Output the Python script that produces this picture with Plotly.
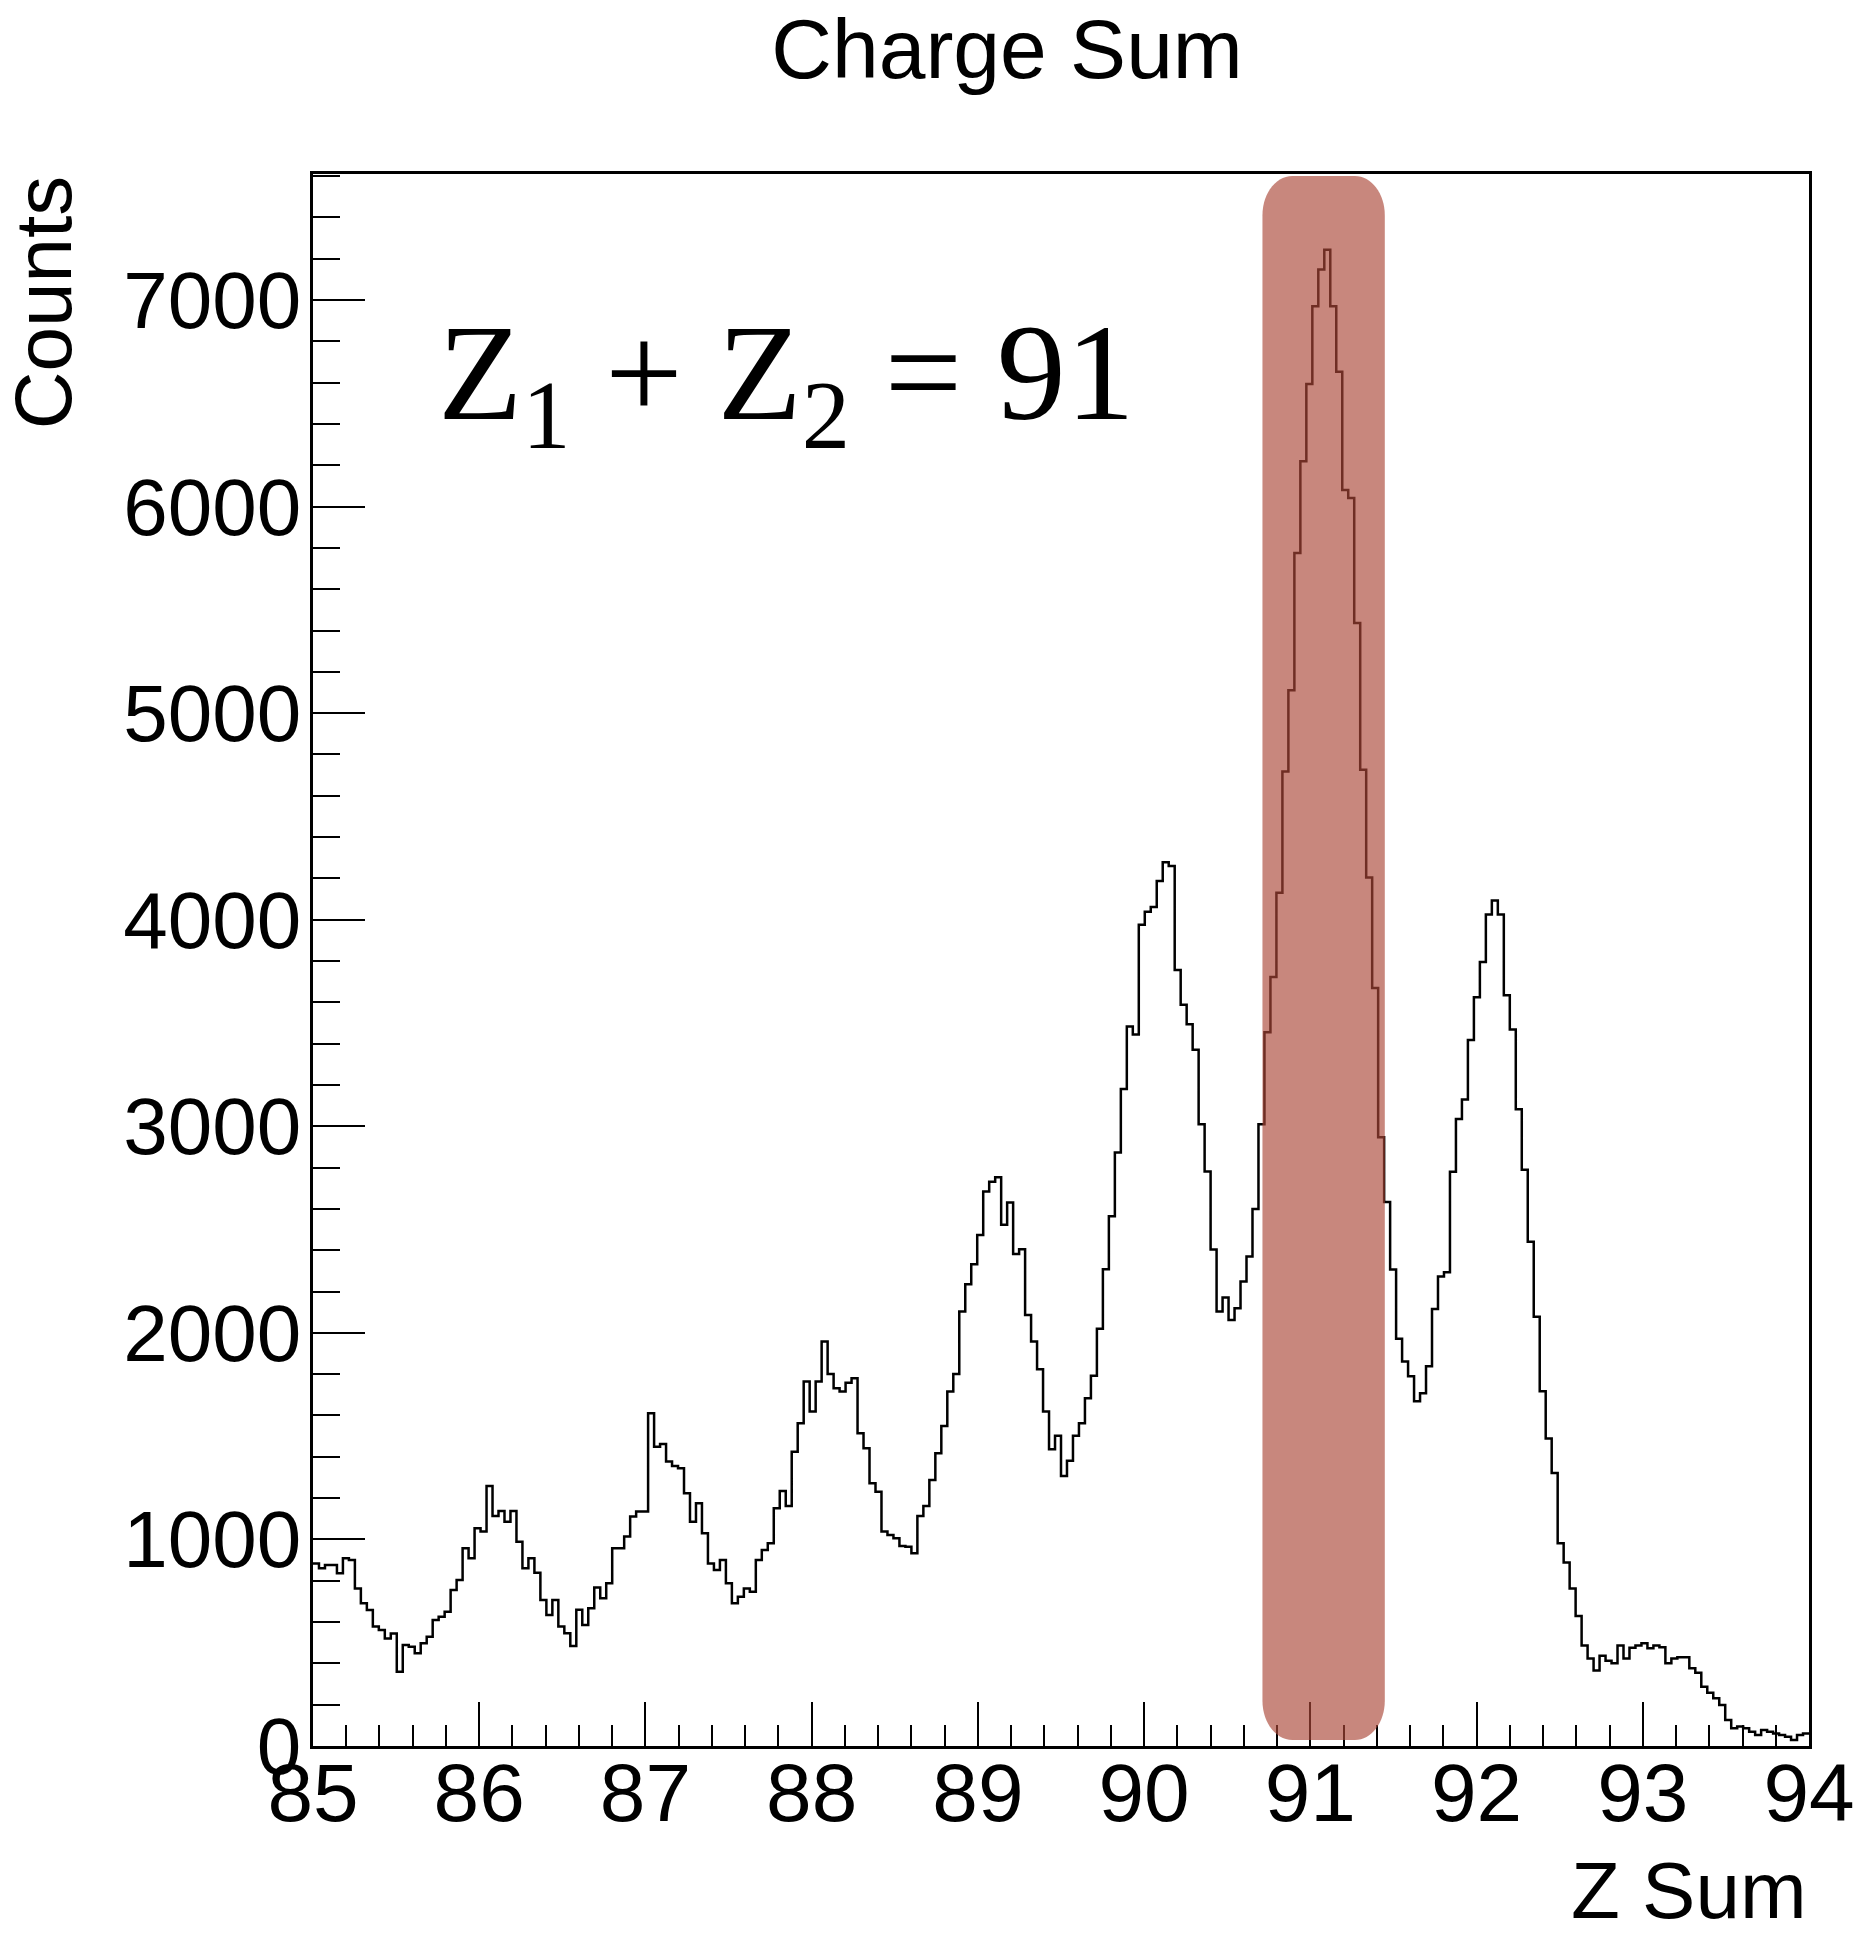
import plotly.graph_objects as go

# ---------------- data ----------------
bin_low = 85.0
bin_width = 0.036          # 250 bins from 85 to 94
counts = [
    884, 860, 876, 876, 836, 909, 900, 763, 691, 658,
    578, 562, 521, 545, 360, 489, 481, 449, 497, 529,
    610, 626, 650, 755, 804, 957, 909, 1054, 1038, 1259,
    1114, 1138, 1086, 1138, 989, 860, 909, 839, 707, 634,
    707, 578, 546, 484, 659, 586, 667, 767, 715, 788,
    957, 957, 1014, 1111, 1135, 1135, 1611, 1449, 1462, 1377,
    1356, 1345, 1223, 1086, 1175, 1030, 884, 852, 901, 788,
    691, 723, 763, 747, 901, 949, 981, 1151, 1235, 1162,
    1425, 1562, 1764, 1619, 1764, 1958, 1801, 1732, 1716, 1759,
    1780, 1514, 1441, 1272, 1231, 1038, 1022, 1006, 968, 965,
    933, 1114, 1162, 1288, 1417, 1549, 1716, 1801, 2103, 2235,
    2332, 2474, 2684, 2732, 2753, 2523, 2631, 2382, 2405, 2087,
    1958, 1824, 1619, 1437, 1502, 1307, 1381, 1502, 1563, 1684,
    1792, 2020, 2308, 2564, 2873, 3181, 3483, 3444, 3976, 4038,
    4061, 4187, 4278, 4260, 3757, 3588, 3494, 3371, 3010, 2781,
    2404, 2103, 2171, 2062, 2119, 2249, 2370, 2599, 3010, 3455,
    3723, 4130, 4717, 5111, 5775, 6220, 6593, 6970, 7148, 7243,
    6970, 6653, 6080, 6042, 5437, 4726, 4204, 3670, 2947, 2633,
    2307, 1972, 1861, 1790, 1669, 1708, 1838, 2116, 2273, 2294,
    2780, 3035, 3130, 3418, 3625, 3795, 4025, 4093, 4025, 3634,
    3469, 3083, 2790, 2441, 2078, 1717, 1488, 1321, 981, 888,
    763, 629, 486, 424, 365, 437, 413, 400, 486, 424,
    476, 486, 497, 473, 486, 478, 400, 424, 430, 430,
    376, 355, 287, 258, 231, 199, 126, 86, 94, 86,
    69, 53, 77, 69, 61, 53, 45, 29, 53, 61,
]
x_tick_vals = [85, 86, 87, 88, 89, 90, 91, 92, 93, 94]
y_tick_vals = [0, 1000, 2000, 3000, 4000, 5000, 6000, 7000]
x_range = [85, 94]
y_range = [0, 7610]

band_x = [90.712, 91.448]   # highlighted Z1+Z2 = 91 region
band_y = [29, 7600]

title_text = "Charge Sum"
x_title = "Z Sum"
y_title = "Counts"
label_text = "Z<sub>1</sub> + Z<sub>2</sub> = 91"

# ---------------- figure ----------------
edges = [bin_low + bin_width * i for i in range(len(counts) + 1)]
ys = counts + [counts[-1]]

fig = go.Figure()
fig.add_trace(go.Scatter(
    x=edges, y=ys, mode="lines",
    line=dict(shape="hv", color="black", width=2.5),
    hoverinfo="skip", showlegend=False,
))

# rounded rectangle band (corner radius in data units)
x0, x1 = band_x
y0, y1 = band_y
rx, ry = 0.18, 190
k = 0.5523
path = (
    f"M {x0+rx},{y0} L {x1-rx},{y0} "
    f"C {x1-rx+rx*k},{y0} {x1},{y0+ry-ry*k} {x1},{y0+ry} "
    f"L {x1},{y1-ry} "
    f"C {x1},{y1-ry+ry*k} {x1-rx+rx*k},{y1} {x1-rx},{y1} "
    f"L {x0+rx},{y1} "
    f"C {x0+rx-rx*k},{y1} {x0},{y1-ry+ry*k} {x0},{y1-ry} "
    f"L {x0},{y0+ry} "
    f"C {x0},{y0+ry-ry*k} {x0+rx-rx*k},{y0} {x0+rx},{y0} Z"
)
fig.add_shape(type="path", path=path, xref="x", yref="y",
              fillcolor="rgb(170,71,56)", opacity=0.65,
              line=dict(width=0), layer="above")

sans = "Liberation Sans, Arial, Helvetica, sans-serif"
serif = "Liberation Serif, Times New Roman, serif"

fig.update_layout(
    width=1856, height=1937,
    margin=dict(l=313, r=47, t=174, b=191, autoexpand=False),
    paper_bgcolor="white", plot_bgcolor="white",
    showlegend=False,
    title=dict(text=title_text, x=0.5426, xref="container", xanchor="center",
               y=0.975, yref="container", yanchor="middle",
               font=dict(family=sans, size=84, color="black")),
    font=dict(family=sans, color="black"),
)

fig.update_xaxes(
    range=x_range, tickvals=x_tick_vals, ticktext=[str(v) for v in x_tick_vals],
    ticks="inside", ticklen=44, tickwidth=2, tickcolor="black",
    showline=True, linewidth=2.5, linecolor="black", mirror=True,
    showgrid=False, zeroline=False, automargin=False,
    tickfont=dict(family=sans, size=82, color="black"),
    ticklabelstandoff=-26,
    minor=dict(tick0=85, dtick=0.2, ticks="inside", ticklen=21, tickwidth=2,
               tickcolor="black", showgrid=False),
)
fig.update_yaxes(
    range=y_range, tickvals=y_tick_vals, ticktext=[str(v) for v in y_tick_vals],
    ticks="inside", ticklen=52, tickwidth=2, tickcolor="black",
    showline=True, linewidth=2.5, linecolor="black", mirror=True,
    showgrid=False, zeroline=False, automargin=False,
    tickfont=dict(family=sans, size=80, color="black"),
    ticklabelstandoff=-7,
    minor=dict(tick0=0, dtick=200, ticks="inside", ticklen=27, tickwidth=2,
               tickcolor="black", showgrid=False),
)

fig.add_annotation(text=y_title, xref="paper", yref="paper",
                   x=-0.18, y=1.0, xanchor="center", yanchor="top",
                   textangle=-90, showarrow=False,
                   font=dict(family=sans, size=80, color="black"))
fig.add_annotation(text=x_title, xref="paper", yref="paper",
                   x=1.0, y=-0.092, xanchor="right", yanchor="middle",
                   showarrow=False,
                   font=dict(family=sans, size=80, color="black"))
fig.add_annotation(text=label_text, xref="x", yref="y",
                   x=85.74, y=6600, xanchor="left", yanchor="middle",
                   showarrow=False,
                   font=dict(family=serif, size=138, color="black"))

fig.write_html("out.html")
